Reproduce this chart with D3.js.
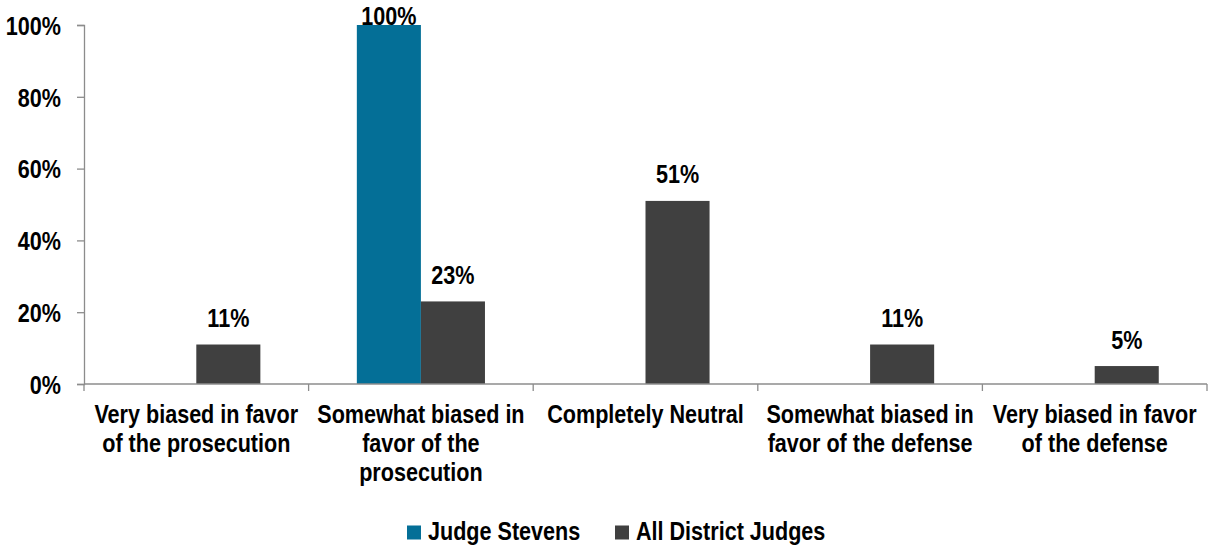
<!DOCTYPE html>
<html>
<head>
<meta charset="utf-8">
<script src="https://cdn.jsdelivr.net/npm/d3@7"></script>
<style>
  body { margin: 0; background: #fff; }
  svg text { font-family: "Liberation Sans", Arial, sans-serif; font-weight: bold; fill: #000; font-size: 26px; }
</style>
</head>
<body>
<div id="chart"></div>
<script>
const categories = [
  ["Very biased in favor", "of the prosecution"],
  ["Somewhat biased in", "favor of the", "prosecution"],
  ["Completely Neutral"],
  ["Somewhat biased in", "favor of the defense"],
  ["Very biased in favor", "of the defense"]
];
const seriesNames = ["Judge Stevens", "All District Judges"];
const stevens = [null, 100, null, null, null];
const allDistrict = [11, 23, 51, 11, 5];
const yTicks = [0, 20, 40, 60, 80, 100];
const colors = ["#046f97", "#404040"];

const W = 1211, H = 550;
const m = {left: 84, right: 4, top: 25, bottom: 166};
const narrow = 0.83; // fake Arial Narrow by squeezing Liberation Sans

const svg = d3.select("#chart").append("svg")
    .attr("width", W).attr("height", H);

const x0 = d3.scaleBand()
    .domain(d3.range(categories.length))
    .range([m.left, W - m.right])
    .padding(0);

const x1 = d3.scaleBand()
    .domain(seriesNames)
    .range([0, x0.bandwidth()])
    .paddingInner(0)
    .paddingOuter(0.753);

const y = d3.scaleLinear().domain([0, 100]).range([H - m.bottom, m.top]);

const data = [];
categories.forEach((c, i) => {
    [stevens, allDistrict].forEach((s, j) => {
        if (s[i] != null) data.push({cat: i, series: seriesNames[j], color: colors[j], value: s[i]});
    });
});

// bars
svg.append("g").selectAll("rect")
    .data(data)
    .join("rect")
    .attr("x", d => x0(d.cat) + x1(d.series))
    .attr("y", d => y(d.value))
    .attr("width", x1.bandwidth())
    .attr("height", d => y(0) - y(d.value))
    .attr("fill", d => d.color);

// value labels
svg.append("g").selectAll("text")
    .data(data)
    .join("text")
    .attr("text-anchor", "middle")
    .attr("transform", d => `translate(${x0(d.cat) + x1(d.series) + x1.bandwidth() / 2},${Math.max(y(d.value) - 17.5, y(100))}) scale(${narrow},1)`)
    .text(d => d.value + "%");

// y axis
const yAxis = svg.append("g")
    .attr("transform", `translate(${m.left},0)`)
    .call(d3.axisLeft(y).tickValues(yTicks).tickSize(7).tickPadding(16).tickFormat(d => d + "%"));
yAxis.select(".domain").attr("stroke", "#8c8c8c").attr("stroke-width", 1.3);
yAxis.selectAll(".tick line").attr("stroke", "#8c8c8c").attr("stroke-width", 1.3);
yAxis.selectAll(".tick text")
    .attr("x", null)
    .attr("dy", "0.36em")
    .attr("transform", `translate(-23,0) scale(${narrow},1)`)
    .attr("fill", "#000");

// x axis baseline + boundary ticks
const xg = svg.append("g");
xg.append("line")
    .attr("x1", m.left).attr("x2", W - m.right)
    .attr("y1", y(0)).attr("y2", y(0))
    .attr("stroke", "#8c8c8c").attr("stroke-width", 1.3);
const bounds = d3.range(categories.length).map(i => x0(i)).concat([x0(categories.length - 1) + x0.bandwidth()]);
xg.selectAll(".bt")
    .data(bounds)
    .join("line")
    .attr("x1", d => d).attr("x2", d => d)
    .attr("y1", y(0)).attr("y2", y(0) + 7)
    .attr("stroke", "#8c8c8c").attr("stroke-width", 1.3);

// category labels
const catText = xg.selectAll(".cat")
    .data(categories)
    .join("text")
    .attr("text-anchor", "middle")
    .attr("transform", (d, i) => `translate(${x0(i) + x0.bandwidth() / 2},${y(0) + 39}) scale(${narrow},1)`);
catText.selectAll("tspan")
    .data(d => d)
    .join("tspan")
    .attr("x", 0)
    .attr("y", (d, i) => i * 29)
    .text(d => d);

// legend
const legendX = [407, 615];
const lg = svg.append("g").selectAll("g")
    .data(seriesNames)
    .join("g")
    .attr("transform", (d, i) => `translate(${legendX[i]},525.5)`);
lg.append("rect")
    .attr("width", 14).attr("height", 14)
    .attr("fill", (d, i) => colors[i]);
lg.append("text")
    .attr("transform", `translate(21,14.5) scale(${narrow},1)`)
    .text(d => d);
</script>
</body>
</html>
